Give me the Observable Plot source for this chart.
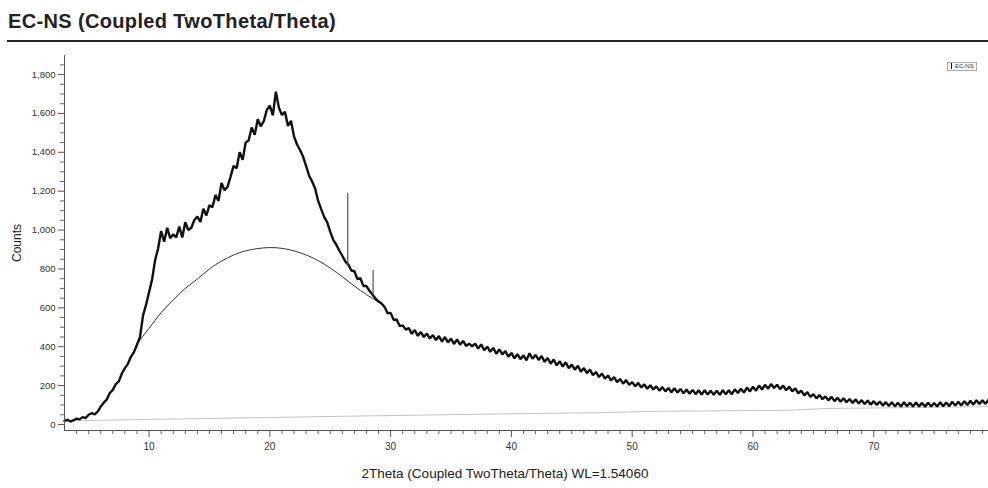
<!DOCTYPE html>
<html>
<head>
<meta charset="utf-8">
<script src="https://cdn.jsdelivr.net/npm/d3@7"></script>
<script src="https://cdn.jsdelivr.net/npm/@observablehq/plot@0.6"></script>
<style>
  html, body { margin: 0; padding: 0; background: #fff; width: 988px; height: 488px; overflow: hidden; font-family: "Liberation Sans", Arial, sans-serif; }
  #title { position: absolute; left: 7px; top: 0; width: 981px; height: 40px; border-bottom: 2px solid #222; }
  #title span { position: absolute; left: 1px; top: 10px; font-size: 20px; color: #222; font-weight: 700; letter-spacing: 0.35px; white-space: nowrap; }
  #chart { position: absolute; left: 0; top: 42px; }
  #legend { position: absolute; left: 947px; top: 62px; border: 1px solid #aaa; font-size: 6px; line-height: 7px; padding: 0 2px 0 1px; color: #444; background: #f6f6f6; }
  #legend b { display: inline-block; width: 1px; height: 6px; background: #111; margin: 0 3px 0 2px; vertical-align: middle; }
  #xlabel { position: absolute; left: 505px; top: 466px; transform: translateX(-50%); font-size: 13.5px; color: #222; white-space: nowrap; }
  #ylabel { position: absolute; left: 17px; top: 243px; transform: translate(-50%, -50%) rotate(-90deg); font-size: 12px; color: #222; white-space: nowrap; }
</style>
</head>
<body>
<div id="title"><span>EC-NS (Coupled TwoTheta/Theta)</span></div>
<div id="chart"></div>
<div id="legend"><b></b>EC-NS</div>
<div id="xlabel">2Theta (Coupled TwoTheta/Theta) WL=1.54060</div>
<div id="ylabel">Counts</div>
<script>
// ---- data ----
const xStart = 3;
const xStep = 0.25;
// measured counts, every 0.25° 2θ from 3 to 79.5
const counts = [
  18, 24, 15, 22,   30, 26, 38, 33,   50, 58, 52, 66,   92, 112, 128, 162,
  178, 208, 222, 262,   290, 312, 348, 372,   410, 450, 560, 615,   680, 745, 845, 905,
  995, 940, 1012, 958,   978, 962, 1018, 962,   1040, 1000, 1012, 1052,   1070, 1042, 1110, 1075,
  1128, 1118, 1180, 1150,   1242, 1205, 1222, 1275,   1330, 1318, 1400, 1362,   1450, 1462, 1528, 1490,
  1570, 1534, 1560, 1618,   1640, 1590, 1712, 1630,   1592, 1608, 1536, 1562,   1482, 1440, 1412, 1378,
  1330, 1280, 1250, 1214,   1150, 1108, 1068, 1040,   992, 950, 925, 895,   868, 838, 822, 792,
  788, 748, 752, 712,   712, 688, 668, 648,   632, 622, 604, 572,   574, 538, 540, 506,
  510, 488, 496, 466,   486, 456, 475, 450,   468, 442, 460, 434,   455, 426, 450, 422,
  442, 414, 438, 410,   430, 404, 416, 402,   416, 390, 412, 382,   400, 374, 394, 364,
  386, 360, 378, 348,   368, 340, 362, 336,   356, 330, 366, 338,   358, 332, 352, 322,
  342, 312, 334, 304,   325, 298, 320, 290,   308, 282, 302, 272,   290, 264, 282, 254,
  270, 244, 262, 236,   252, 226, 244, 218,   234, 210, 228, 204,   218, 196, 214, 190,
  206, 184, 202, 180,   196, 174, 192, 170,   188, 166, 186, 164,   183, 160, 180, 158,
  178, 156, 176, 154,   176, 154, 174, 152,   174, 152, 176, 156,   176, 156, 181, 162,
  184, 164, 190, 170,   194, 174, 200, 180,   204, 184, 208, 188,   204, 182, 200, 176,
  194, 170, 186, 160,   174, 150, 166, 142,   156, 134, 152, 130,   144, 124, 142, 120,
  137, 117, 135, 114,   131, 111, 129, 108,   125, 105, 123, 102,   120, 100, 118, 97,
  115, 95, 114, 93,   112, 92, 114, 94,   112, 92, 113, 93,   111, 91, 112, 92,
  111, 92, 114, 94,   113, 94, 117, 97,   117, 98, 120, 100,   122, 102, 125, 105,
  125, 106, 127
];
// sharp reflections (spikes)
const spikeX = [26.45, 28.55];
const spikeBase = [815, 665];
const spikeTop = [1190, 792];
// amorphous hump fit
const humpX = [9, 10, 11, 12, 13, 14, 15, 16, 17, 18, 19, 20, 21, 22, 23, 24, 25, 26, 27, 28, 29];
const humpY = [415, 495, 575, 640, 700, 748, 800, 840, 872, 893, 905, 910, 906, 893, 872, 843, 805, 760, 712, 668, 630];
// background line
const bgX = [3, 10, 20, 30, 40, 47, 52, 63, 66, 79.5];
const bgY = [18, 26, 36, 46, 55, 60, 68, 73, 82, 92];
// axes
const xMajor = [10, 20, 30, 40, 50, 60, 70];
const yMajor = [0, 200, 400, 600, 800, 1000, 1200, 1400, 1600, 1800];
const xDomain = [3, 79.5];
const yDomain = [-31, 1898];

const series = counts.map((c, i) => ({x: xStart + i * xStep, y: c}));
const spikes = spikeX.map((x, i) => ({x, y1: spikeBase[i], y2: spikeTop[i]}));
const hump = humpX.map((x, i) => ({x, y: humpY[i]}));
const bg = bgX.map((x, i) => ({x, y: bgY[i]}));
const xMinor = d3.range(4, 80, 1).filter(v => v % 10 !== 0);
const yMinor = d3.range(50, 1900, 50).filter(v => v % 200 !== 0);

const chart = Plot.plot({
  width: 988,
  height: 446,
  marginLeft: 64,
  marginRight: 0,
  marginTop: 13,
  marginBottom: 58,
  style: {fontFamily: "Liberation Sans, Arial, sans-serif", color: "#333", background: "#fff"},
  x: {domain: xDomain},
  y: {domain: yDomain},
  marks: [
    Plot.line(bg, {x: "x", y: "y", stroke: "#c4c4c4", strokeWidth: 1}),
    Plot.line(hump, {x: "x", y: "y", stroke: "#333", strokeWidth: 1, curve: "natural"}),
    Plot.line(series, {x: "x", y: "y", stroke: "#111", strokeWidth: 2.4, strokeLinejoin: "miter"}),
    Plot.ruleX(spikes, {x: "x", y1: "y1", y2: "y2", stroke: "#555", strokeWidth: 1.2}),
    Plot.ruleY([yDomain[0]], {stroke: "#555"}),
    Plot.ruleX([xDomain[0]], {stroke: "#555"}),
    Plot.axisX({ticks: xMajor, tickSize: 7, tickPadding: 5, fontSize: 10, stroke: "#555", label: null}),
    Plot.axisX({ticks: xMinor, tickSize: 4, tickFormat: () => "", stroke: "#666", label: null}),
    Plot.axisY({ticks: yMajor, tickSize: 6, tickPadding: 3, fontSize: 9.5, tickFormat: d3.format(","), stroke: "#555", label: null}),
    Plot.axisY({ticks: yMinor, tickSize: 4, tickFormat: () => "", stroke: "#666", label: null})
  ]
});
document.getElementById("chart").appendChild(chart);
</script>
</body>
</html>
